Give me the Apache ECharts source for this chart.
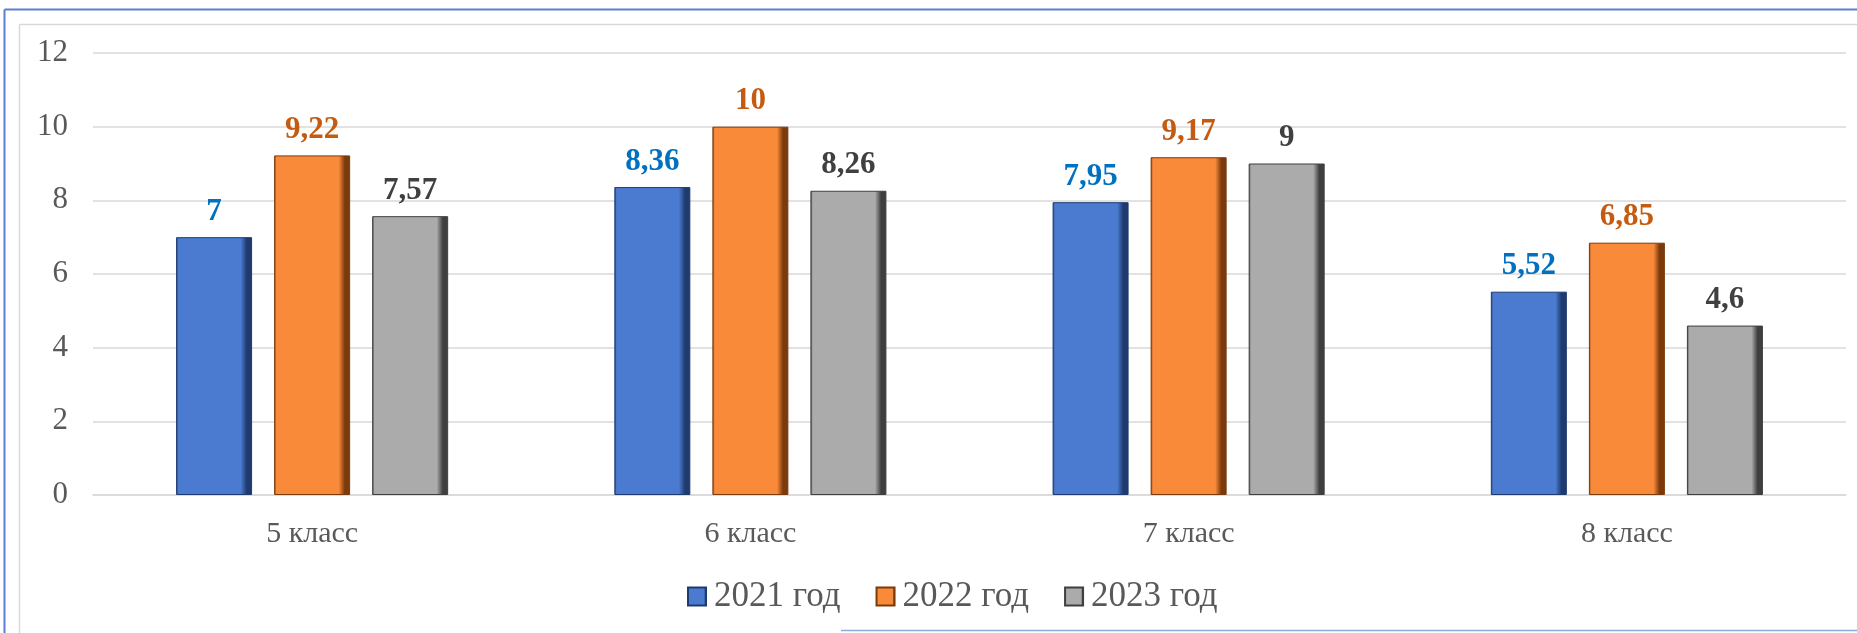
<!DOCTYPE html>
<html>
<head>
<meta charset="utf-8">
<script src="https://cdn.jsdelivr.net/npm/echarts@6/dist/echarts.min.js"></script>
<style>
html,body{margin:0;padding:0;background:#fff;}
#c{width:1857px;height:633px;}
</style>
</head>
<body>
<div id="c"></div>
<script>
const categories = ['5 класс', '6 класс', '7 класс', '8 класс'];
const seriesNames = ['2021 год', '2022 год', '2023 год'];
const values2021 = [7, 8.36, 7.95, 5.52];
const values2022 = [9.22, 10, 9.17, 6.85];
const values2023 = [7.57, 8.26, 9, 4.6];
const yTicks = [0, 2, 4, 6, 8, 10, 12];

const palette = [
  {base: '#4A7BD0', light: '#6E97DE', dark: '#1F3A6E', label: '#0070C0'},
  {base: '#F98A3A', light: '#FBA566', dark: '#7A3A0C', label: '#C55A11'},
  {base: '#ABABAB', light: '#C8C8C8', dark: '#3F3F3F', label: '#404040'}
];
const allValues = [values2021, values2022, values2023];

function barGradient(p) {
  return new echarts.graphic.LinearGradient(0, 0, 1, 0, [
    {offset: 0, color: p.dark},
    {offset: 0.03, color: p.base},
    {offset: 0.85, color: p.base},
    {offset: 0.93, color: p.dark},
    {offset: 1, color: p.dark}
  ]);
}

const series = seriesNames.map((name, i) => ({
  name: name,
  type: 'bar',
  data: allValues[i],
  barWidth: 76,
  barGap: '29%',
  itemStyle: {
    color: barGradient(palette[i]),
    borderColor: palette[i].dark,
    borderWidth: 1
  },
  label: {
    show: true,
    position: 'top',
    distance: 10,
    fontFamily: 'Liberation Serif',
    fontWeight: 'bold',
    fontSize: 31,
    color: palette[i].label,
    formatter: (p) => String(p.value).replace('.', ',')
  }
}));

const chart = echarts.init(document.getElementById('c'), null, {renderer: 'canvas'});
chart.setOption({
  animation: false,
  backgroundColor: '#fff',
  color: palette.map(p => p.base),
  textStyle: {fontFamily: 'Liberation Serif'},
  grid: {left: 93, right: 11, top: 53, bottom: 138, containLabel: false},
  legend: {
    left: 682,
    top: 574,
    itemWidth: 18,
    itemHeight: 18,
    itemGap: 35,
    icon: 'rect',
    textStyle: {fontFamily: 'Liberation Serif', fontSize: 35, color: '#595959', padding: [0, 0, 0, 3]},
    data: seriesNames
  },
  xAxis: {
    type: 'category',
    data: categories,
    axisLine: {show: true, lineStyle: {color: '#D9D9D9', width: 1.5}},
    axisTick: {show: false},
    axisLabel: {fontFamily: 'Liberation Serif', fontSize: 30, color: '#595959', margin: 24}
  },
  yAxis: {
    type: 'value',
    min: yTicks[0],
    max: yTicks[yTicks.length - 1],
    interval: 2,
    axisLine: {show: false},
    axisTick: {show: false},
    axisLabel: {fontFamily: 'Liberation Serif', fontSize: 31, color: '#595959', margin: 25},
    splitLine: {lineStyle: {color: '#D9D9D9', width: 1.5}}
  },
  graphic: [
    {type: 'line', shape: {x1: 4.5, y1: 9.5, x2: 1857, y2: 9.5}, style: {stroke: '#5B7FCF', lineWidth: 2}, silent: true},
    {type: 'line', shape: {x1: 4.5, y1: 9.5, x2: 4.5, y2: 633}, style: {stroke: '#5B7FCF', lineWidth: 2}, silent: true},
    {type: 'line', shape: {x1: 841, y1: 630.5, x2: 1857, y2: 630.5}, style: {stroke: '#8EA9DB', lineWidth: 1.5}, silent: true},
    {type: 'line', shape: {x1: 19.5, y1: 24.5, x2: 1857, y2: 24.5}, style: {stroke: '#D9D9D9', lineWidth: 1.5}, silent: true},
    {type: 'line', shape: {x1: 19.5, y1: 24.5, x2: 19.5, y2: 633}, style: {stroke: '#D9D9D9', lineWidth: 1.5}, silent: true}
  ],
  series: series
});
</script>
</body>
</html>
